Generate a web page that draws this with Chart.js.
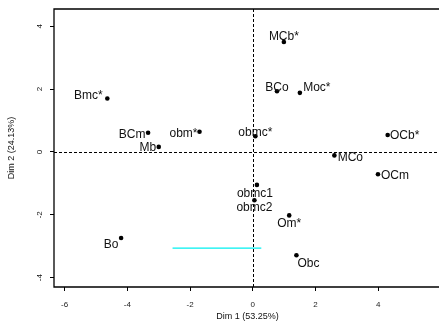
<!DOCTYPE html>
<html lang="en">
<head>
    <meta charset="UTF-8">
    <title>PCA individuals map</title>
    <style>
        body {
            margin: 0;
            background-color: #fff;
            overflow: hidden;
        }
        #pca-chart {
            display: block;
        }
    </style>
    <script src="https://cdn.jsdelivr.net/npm/chart.js"></script>
</head>
<body>
    <canvas id="pca-chart" width="445" height="335"></canvas>

    <script>
        // individuals and their coordinates on the first two dimensions
        const names = ['Bmc*', 'BCm', 'Mb', 'obm*', 'MCb*', 'BCo', 'Moc*', 'obmc*',
                       'OCb*', 'MCo', 'OCm', 'obmc1', 'obmc2', 'Om*', 'Obc', 'Bo'];
        const dim1 = [-4.64, -3.34, -3.00, -1.70, 0.99, 0.77, 1.50, 0.08,
                      4.30, 2.60, 3.99, 0.13, 0.05, 1.16, 1.39, -4.20];
        const dim2 = [1.70, 0.61, 0.16, 0.64, 3.50, 1.93, 1.88, 0.50,
                      0.54, -0.11, -0.71, -1.05, -1.54, -2.02, -3.29, -2.74];

        // cyan segment
        const segX = [-2.56, 0.27];
        const segY = [-3.06, -3.06];

        const xTicks = [-6, -4, -2, 0, 2, 4];
        const yTicks = [-4, -2, 0, 2, 4];

        // label offsets in pixels from each point (keeps text off the dots)
        const labelShift = [
            [-19, -3], [-16, 2], [-11, 1], [-16, 2], [0, -5], [0, -4], [17, -5], [0, -4],
            [17, 1], [16, 2], [17, 1], [-2, 9], [0, 7], [0, 8], [12, 8], [-10, 7]
        ];

        const fontFamily = '"Liberation Sans", Arial, sans-serif';

        // frame, dashed origin lines, point labels and y tick labels
        const decorations = {
            id: 'decorations',
            beforeDatasetsDraw(chart) {
                const { ctx, chartArea: a, scales: { x, y } } = chart;
                ctx.save();
                ctx.strokeStyle = '#000';
                ctx.lineWidth = 1;
                ctx.setLineDash([3, 2]);
                const x0 = Math.round(x.getPixelForValue(0)) + 0.5;
                const y0 = Math.round(y.getPixelForValue(0)) + 0.5;
                ctx.beginPath();
                ctx.moveTo(x0, a.top);
                ctx.lineTo(x0, a.bottom);
                ctx.moveTo(a.left, y0);
                ctx.lineTo(a.right, y0);
                ctx.stroke();
                ctx.restore();
            },
            afterDatasetsDraw(chart) {
                const { ctx, chartArea: a, scales: { y } } = chart;
                const x = chart.scales.x;
                ctx.save();
                // box is open on the right, it runs past the page edge
                ctx.strokeStyle = '#000';
                ctx.lineWidth = 1.3;
                ctx.beginPath();
                ctx.moveTo(a.right + 10, a.top);
                ctx.lineTo(a.left, a.top);
                ctx.lineTo(a.left, a.bottom);
                ctx.lineTo(a.right + 10, a.bottom);
                ctx.stroke();

                ctx.fillStyle = '#111';
                ctx.font = '12px ' + fontFamily;
                ctx.textAlign = 'center';
                ctx.textBaseline = 'middle';
                names.forEach((n, i) => {
                    const px = x.getPixelForValue(dim1[i]) + labelShift[i][0];
                    const py = y.getPixelForValue(dim2[i]) + labelShift[i][1];
                    ctx.fillText(n, px, py);
                });

                // y tick labels, rotated like the axis title
                ctx.font = '8px ' + fontFamily;
                yTicks.forEach(v => {
                    const py = y.getPixelForValue(v);
                    ctx.save();
                    ctx.translate(40, py);
                    ctx.rotate(-Math.PI / 2);
                    ctx.fillText(String(v), 0, 0);
                    ctx.restore();
                });
                ctx.restore();
            }
        };

        new Chart(document.getElementById('pca-chart'), {
            type: 'scatter',
            data: {
                datasets: [{
                    data: dim1.map((v, i) => ({ x: v, y: dim2[i] })),
                    backgroundColor: '#000',
                    borderColor: '#000',
                    pointRadius: 2.3,
                    borderWidth: 0
                }, {
                    type: 'line',
                    data: segX.map((v, i) => ({ x: v, y: segY[i] })),
                    borderColor: '#00f0f0',
                    borderWidth: 1.3,
                    pointRadius: 0,
                    fill: false
                }]
            },
            options: {
                responsive: false,
                animation: false,
                layout: { padding: { top: 9, right: 3, left: 0, bottom: 0 } },
                plugins: {
                    legend: { display: false },
                    tooltip: { enabled: false }
                },
                scales: {
                    x: {
                        type: 'linear',
                        min: -6.34,
                        max: 6.0,
                        afterBuildTicks: s => { s.ticks = xTicks.map(v => ({ value: v })); },
                        afterFit: s => { s.height = 48; },
                        grid: { drawOnChartArea: false, color: '#000', tickLength: 4 },
                        border: { display: false },
                        ticks: {
                            color: '#222',
                            font: { family: fontFamily, size: 8 },
                            padding: 9,
                            maxRotation: 0
                        },
                        title: {
                            display: true,
                            text: 'Dim 1 (53.25%)',
                            color: '#111',
                            font: { family: fontFamily, size: 9 },
                            padding: { top: 0, bottom: 13 }
                        }
                    },
                    y: {
                        type: 'linear',
                        min: -4.30,
                        max: 4.55,
                        afterBuildTicks: s => { s.ticks = yTicks.map(v => ({ value: v })); },
                        afterFit: s => { s.width = 54; },
                        grid: { drawOnChartArea: false, color: '#000', tickLength: 4 },
                        border: { display: false },
                        ticks: { display: false },
                        title: {
                            display: true,
                            text: 'Dim 2 (24.13%)',
                            color: '#111',
                            font: { family: fontFamily, size: 9 },
                            padding: { top: 6, bottom: 0 }
                        }
                    }
                }
            },
            plugins: [decorations]
        });
    </script>
</body>
</html>
